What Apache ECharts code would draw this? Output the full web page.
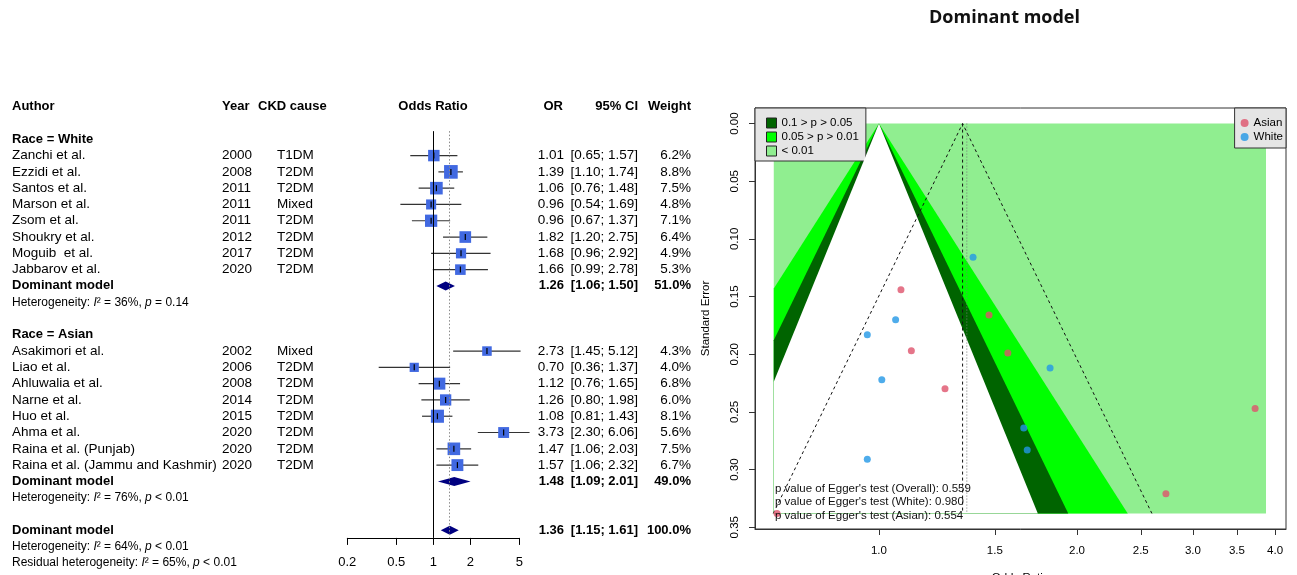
<!DOCTYPE html>
<html>
<head>
<meta charset="utf-8">
<title>Dominant model</title>
<script src="https://cdn.jsdelivr.net/npm/echarts@6.0.0/dist/echarts.min.js"></script>
<style>
  html, body { margin: 0; padding: 0; background: #fff; }
  #main { width: 1297px; height: 575px; }
</style>
</head>
<body>
<div id="main"></div>
<script>
// ---- values ----
// Race = White
const whiteAuthors = ['Zanchi et al.', 'Ezzidi et al.', 'Santos et al.', 'Marson et al.', 'Zsom et al.', 'Shoukry et al.', 'Moguib  et al.', 'Jabbarov et al.'];
const whiteYears = [2000, 2008, 2011, 2011, 2011, 2012, 2017, 2020];
const whiteCause = ['T1DM', 'T2DM', 'T2DM', 'Mixed', 'T2DM', 'T2DM', 'T2DM', 'T2DM'];
const whiteOR = [1.01, 1.39, 1.06, 0.96, 0.96, 1.82, 1.68, 1.66];
const whiteLo = [0.65, 1.10, 0.76, 0.54, 0.67, 1.20, 0.96, 0.99];
const whiteHi = [1.57, 1.74, 1.48, 1.69, 1.37, 2.75, 2.92, 2.78];
const whiteWeight = [6.2, 8.8, 7.5, 4.8, 7.1, 6.4, 4.9, 5.3];
const whiteSE = [0.222, 0.116, 0.170, 0.291, 0.183, 0.212, 0.283, 0.264];

// Race = Asian
const asianAuthors = ['Asakimori et al.', 'Liao et al.', 'Ahluwalia et al.', 'Narne et al.', 'Huo et al.', 'Ahma et al.', 'Raina et al. (Punjab)', 'Raina et al. (Jammu and Kashmir)'];
const asianYears = [2002, 2006, 2008, 2014, 2015, 2020, 2020, 2020];
const asianCause = ['Mixed', 'T2DM', 'T2DM', 'T2DM', 'T2DM', 'T2DM', 'T2DM', 'T2DM'];
const asianOR = [2.73, 0.70, 1.12, 1.26, 1.08, 3.73, 1.47, 1.57];
const asianLo = [1.45, 0.36, 0.76, 0.80, 0.81, 2.30, 1.06, 1.06];
const asianHi = [5.12, 1.37, 1.65, 1.98, 1.43, 6.06, 2.03, 2.32];
const asianWeight = [4.3, 4.0, 6.8, 6.0, 8.1, 5.6, 7.5, 6.7];
const asianSE = [0.321, 0.338, 0.197, 0.230, 0.144, 0.247, 0.166, 0.199];

// pooled: White, Asian, overall
const pooledOR = [1.26, 1.48, 1.36];
const pooledLo = [1.06, 1.09, 1.15];
const pooledHi = [1.50, 2.01, 1.61];
const pooledWeight = [51.0, 49.0, 100.0];
const hetI2 = [36, 76, 64];
const hetP = ['= 0.14', '< 0.01', '< 0.01'];
const residualI2 = 65;
const residualP = '< 0.01';
const forestTicks = [0.2, 0.5, 1, 2, 5];

// funnel plot
const fixedOR = 1.34;
const randomOR = 1.36;
const seMax = 0.338;
const contourNames = ['0.1 > p > 0.05', '0.05 > p > 0.01', '< 0.01'];
const contourZ = [1.645, 1.96, 2.576];
const funnelXTicks = [1.0, 1.5, 2.0, 2.5, 3.0, 3.5, 4.0];
const funnelYTicks = [0, 0.05, 0.10, 0.15, 0.20, 0.25, 0.30, 0.35];
const eggerGroups = ['Overall', 'White', 'Asian'];
const eggerP = ['0.559', '0.980', '0.554'];

// ---- layout ----
const FONT = '"Liberation Sans", Arial, Helvetica, sans-serif';
const ROW_H = 16.29;
const ROW0 = 139.3;        // pixel y of row 0
const AXIS_ROW = 24.47;    // forest axis sits between rows 24 and 25
const funnelXRange = [0.648, 4.156];
const funnelYRange = [-0.0135, 0.3515];
const shadeX = [0.692, 3.875];
const C = {
  dark: '#006400', green: '#00FF00', light: '#90EE90',
  asian: '#DF536B', white: '#2297E6', square: '#4169E1', diamond: '#000080'
};
const F = {
  b: 'bold 13px ' + FONT,
  n: '13.5px ' + FONT,
  h: '12px ' + FONT
};
const RICH = { i: { font: 'italic 12px ' + FONT } };

// ---- table text (left part) ----
const COL = { author: 12, year: 222, cause: 277, or: 564, ci: 638, weight: 691 };
const texts = [];
function addText(x, row, text, align, kind) { texts.push({ x, row, text, align, kind }); }
function ciText(lo, hi) { return '[' + lo.toFixed(2) + '; ' + hi.toFixed(2) + ']'; }
function hetText(i2, p) { return 'Heterogeneity: {i|I}\u00B2 = ' + i2 + '%, {i|p} ' + p; }

addText(12, -2, 'Author', 'left', 'b');
addText(222, -2, 'Year', 'left', 'b');
addText(258, -2, 'CKD cause', 'left', 'b');
addText(433, -2, 'Odds Ratio', 'center', 'b');
addText(563, -2, 'OR', 'right', 'b');
addText(COL.ci, -2, '95% CI', 'right', 'b');
addText(COL.weight, -2, 'Weight', 'right', 'b');

const groups = [
  { label: 'Race = White', start: 0, authors: whiteAuthors, years: whiteYears, cause: whiteCause, or: whiteOR, lo: whiteLo, hi: whiteHi, w: whiteWeight },
  { label: 'Race = Asian', start: 12, authors: asianAuthors, years: asianYears, cause: asianCause, or: asianOR, lo: asianLo, hi: asianHi, w: asianWeight }
];
const studyPts = [];
const pooledPts = [];

groups.forEach((g, gi) => {
  addText(COL.author, g.start, g.label, 'left', 'b');
  g.or.forEach((v, i) => {
    const r = g.start + 1 + i;
    addText(COL.author, r, g.authors[i], 'left', 'n');
    addText(COL.year, r, String(g.years[i]), 'left', 'n');
    addText(COL.cause, r, g.cause[i], 'left', 'n');
    addText(COL.or, r, v.toFixed(2), 'right', 'n');
    addText(COL.ci, r, ciText(g.lo[i], g.hi[i]), 'right', 'n');
    addText(COL.weight, r, g.w[i].toFixed(1) + '%', 'right', 'n');
    studyPts.push([g.lo[i], r, g.hi[i], v, g.w[i]]);
  });
  const pr = g.start + 9;
  addText(COL.author, pr, 'Dominant model', 'left', 'b');
  addText(COL.or, pr, pooledOR[gi].toFixed(2), 'right', 'b');
  addText(COL.ci, pr, ciText(pooledLo[gi], pooledHi[gi]), 'right', 'b');
  addText(COL.weight, pr, pooledWeight[gi].toFixed(1) + '%', 'right', 'b');
  addText(COL.author, pr + 1, hetText(hetI2[gi], hetP[gi]), 'left', 'h');
  pooledPts.push([pooledLo[gi], pr, pooledHi[gi], pooledOR[gi]]);
});
addText(COL.author, 24, 'Dominant model', 'left', 'b');
addText(COL.or, 24, pooledOR[2].toFixed(2), 'right', 'b');
addText(COL.ci, 24, ciText(pooledLo[2], pooledHi[2]), 'right', 'b');
addText(COL.weight, 24, pooledWeight[2].toFixed(1) + '%', 'right', 'b');
addText(COL.author, 25, hetText(hetI2[2], hetP[2]), 'left', 'h');
addText(COL.author, 26, 'Residual heterogeneity: {i|I}\u00B2 = ' + residualI2 + '%, {i|p} ' + residualP, 'left', 'h');
pooledPts.push([pooledLo[2], 24, pooledHi[2], pooledOR[2]]);

// ---- funnel contour polygons ----
function bandPoints(z) {
  const lnL = Math.log(shadeX[0]), lnR = Math.log(shadeX[1]);
  const pts = [[1, 0]];
  if (z * seMax > lnR) pts.push([shadeX[1], lnR / z], [shadeX[1], seMax]);
  else pts.push([Math.exp(z * seMax), seMax]);
  if (-z * seMax < lnL) pts.push([shadeX[0], seMax], [shadeX[0], -lnL / z]);
  else pts.push([Math.exp(-z * seMax), seMax]);
  return pts;
}
function polySeries(name, pts, color, z) {
  return {
    type: 'custom', name: name, xAxisIndex: 2, yAxisIndex: 2, z: z, silent: true,
    itemStyle: { color: color },
    data: [[1, 0]],
    renderItem: (params, api) => ({
      type: 'polygon',
      shape: { points: pts.map(p => api.coord(p)) },
      style: { fill: color }
    })
  };
}

const chart = echarts.init(document.getElementById('main'));

const axisText = { color: '#000', fontFamily: FONT };

const option = {
  animation: false,
  backgroundColor: '#fff',
  title: {
    text: 'Dominant model', left: 929, top: 9, padding: 0,
    textStyle: { fontFamily: '"Open Sans", sans-serif', fontWeight: 'bold', fontSize: 18, color: '#111' }
  },
  legend: [
    {
      orient: 'vertical', left: 755, top: 108, selectedMode: false,
      itemWidth: 10, itemHeight: 10, itemGap: 2,
      padding: [9, 7, 4, 11],
      backgroundColor: '#e5e5e5', borderColor: '#333', borderWidth: 1, borderRadius: 0,
      textStyle: { fontSize: 11.5, fontFamily: FONT, color: '#000' },
      data: [
        { name: contourNames[0], icon: 'rect', itemStyle: { color: C.dark, borderColor: '#222', borderWidth: 1 } },
        { name: contourNames[1], icon: 'rect', itemStyle: { color: C.green, borderColor: '#222', borderWidth: 1 } },
        { name: contourNames[2], icon: 'rect', itemStyle: { color: C.light, borderColor: '#222', borderWidth: 1 } }
      ]
    },
    {
      orient: 'vertical', right: 11, top: 108, selectedMode: false,
      itemWidth: 8, itemHeight: 8, itemGap: 2,
      padding: [9, 3, 5, 6],
      backgroundColor: '#e5e5e5', borderColor: '#333', borderWidth: 1, borderRadius: 0,
      textStyle: { fontSize: 11.5, fontFamily: FONT, color: '#000' },
      data: [{ name: 'Asian', icon: 'circle' }, { name: 'White', icon: 'circle' }]
    }
  ],
  graphic: [{
    type: 'text', left: 775, top: 482, z: 20,
    style: {
      text: eggerGroups.map((g, i) => "p value of Egger's test (" + g + '): ' + eggerP[i]).join('\n'),
      font: '11.5px ' + FONT, lineHeight: 13.5, fill: '#111'
    }
  }],
  grid: [
    { left: 0, width: 700, top: ROW0 - 2.5 * ROW_H, height: 29 * ROW_H, show: false, outerBoundsMode: 'none' },
    { left: 347.3, width: 172, top: ROW0 - 0.5 * ROW_H, height: (AXIS_ROW + 0.5) * ROW_H, show: false, outerBoundsMode: 'none' },
    { left: 755, width: 531, top: 108, height: 421, show: true, borderColor: '#333', borderWidth: 1, outerBoundsMode: 'none' }
  ],
  xAxis: [
    { gridIndex: 0, type: 'value', min: 0, max: 700, show: false },
    {
      gridIndex: 1, type: 'log', logBase: 10, min: forestTicks[0], max: forestTicks[forestTicks.length - 1],
      position: 'bottom',
      axisLine: { show: true, onZero: false, lineStyle: { color: '#000', width: 1 } },
      axisTick: { show: true, inside: false, length: 7, customValues: forestTicks, lineStyle: { color: '#000' } },
      axisLabel: { customValues: forestTicks, margin: 18, fontSize: 13, ...axisText, formatter: v => String(v) },
      splitLine: { show: false }, minorTick: { show: false }
    },
    {
      gridIndex: 2, type: 'log', logBase: Math.E, min: funnelXRange[0], max: funnelXRange[1],
      position: 'bottom',
      name: 'Odds Ratio', nameLocation: 'middle', nameGap: 43,
      nameTextStyle: { fontSize: 11.5, fontFamily: FONT, color: '#000' },
      axisLine: { show: true, onZero: false, lineStyle: { color: '#333', width: 1 } },
      axisTick: { show: true, inside: false, length: 6, customValues: funnelXTicks, lineStyle: { color: '#333' } },
      axisLabel: { customValues: funnelXTicks, margin: 16, fontSize: 11.5, ...axisText, formatter: v => v.toFixed(1) },
      splitLine: { show: false }
    }
  ],
  yAxis: [
    { gridIndex: 0, type: 'value', inverse: true, min: -2.5, max: 26.5, show: false },
    { gridIndex: 1, type: 'value', inverse: true, min: -0.5, max: AXIS_ROW, show: false },
    {
      gridIndex: 2, type: 'value', inverse: true, min: funnelYRange[0], max: funnelYRange[1],
      name: 'Standard Error', nameLocation: 'middle', nameGap: 43,
      nameTextStyle: { fontSize: 11.5, fontFamily: FONT, color: '#000' },
      axisLine: { show: true, onZero: false, lineStyle: { color: '#333', width: 1 } },
      axisTick: { show: true, inside: false, length: 6, customValues: funnelYTicks, lineStyle: { color: '#333' } },
      axisLabel: { customValues: funnelYTicks, rotate: 90, margin: 14, fontSize: 11.5, ...axisText, formatter: v => v.toFixed(2) },
      splitLine: { show: false }
    }
  ],
  series: [
    // table text
    {
      type: 'custom', xAxisIndex: 0, yAxisIndex: 0, silent: true, z: 10,
      data: texts.map((t, i) => [t.x, t.row, i]),
      renderItem: (params, api) => {
        const t = texts[params.dataIndex];
        const p = api.coord([api.value(0), api.value(1)]);
        return {
          type: 'text', x: p[0], y: p[1],
          style: { text: t.text, fill: '#000', font: F[t.kind], align: t.align, verticalAlign: 'middle', rich: RICH }
        };
      }
    },
    // study confidence intervals, squares (area ~ weight) and estimate ticks
    {
      type: 'custom', xAxisIndex: 1, yAxisIndex: 1, silent: true, z: 3,
      data: studyPts,
      encode: { x: [0, 2, 3], y: 1 },
      renderItem: (params, api) => {
        const a = api.coord([api.value(0), api.value(1)]);
        const b = api.coord([api.value(2), api.value(1)]);
        const m = api.coord([api.value(3), api.value(1)]);
        const side = 4.6 * Math.sqrt(api.value(4));
        return {
          type: 'group',
          children: [
            { type: 'line', shape: { x1: a[0], y1: a[1], x2: b[0], y2: b[1] }, style: { stroke: '#333', lineWidth: 1.2 }, z2: 1 },
            { type: 'rect', shape: { x: m[0] - side / 2, y: m[1] - side / 2, width: side, height: side }, style: { fill: C.square }, z2: 2 },
            { type: 'line', shape: { x1: m[0], y1: m[1] - 3, x2: m[0], y2: m[1] + 3 }, style: { stroke: '#000', lineWidth: 1.2 }, z2: 3 }
          ]
        };
      }
    },
    // pooled diamonds + reference lines
    {
      type: 'custom', xAxisIndex: 1, yAxisIndex: 1, silent: true, z: 2,
      data: pooledPts,
      encode: { x: [0, 2, 3], y: 1 },
      renderItem: (params, api) => {
        const a = api.coord([api.value(0), api.value(1)]);
        const b = api.coord([api.value(2), api.value(1)]);
        const m = api.coord([api.value(3), api.value(1)]);
        return {
          type: 'polygon',
          shape: { points: [a, [m[0], m[1] - 4.5], b, [m[0], m[1] + 4.5]] },
          style: { fill: C.diamond }
        };
      },
      markLine: {
        silent: true, symbol: 'none', label: { show: false },
        data: [
          { xAxis: 1, lineStyle: { color: '#000', type: 'solid', width: 1 } },
          { xAxis: randomOR, lineStyle: { color: '#8a8a8a', type: [1.5, 2], width: 1 } }
        ]
      }
    },
    // funnel contours
    polySeries(contourNames[2], [[shadeX[0], 0], [shadeX[1], 0], [shadeX[1], seMax], [shadeX[0], seMax]], C.light, 1),
    polySeries(contourNames[1], bandPoints(contourZ[2]), C.green, 2),
    polySeries(contourNames[0], bandPoints(contourZ[1]), C.dark, 3),
    polySeries('', bandPoints(contourZ[0]), '#ffffff', 4),
    // pseudo confidence funnel and pooled estimates
    {
      type: 'custom', xAxisIndex: 2, yAxisIndex: 2, silent: true, z: 5,
      data: [[fixedOR, seMax]],
      renderItem: (params, api) => {
        const f = api.value(0), s = api.value(1);
        const top = api.coord([f, 0]);
        const l = api.coord([Math.exp(Math.log(f) - 1.96 * s), s]);
        const r = api.coord([Math.exp(Math.log(f) + 1.96 * s), s]);
        const fb = api.coord([f, s]);
        const rt = api.coord([randomOR, 0]);
        const rb = api.coord([randomOR, s]);
        return {
          type: 'group',
          children: [
            { type: 'polyline', shape: { points: [l, top, r] }, style: { stroke: '#111', lineWidth: 1, lineDash: [3, 3], fill: null } },
            { type: 'line', shape: { x1: top[0], y1: top[1], x2: fb[0], y2: fb[1] }, style: { stroke: '#111', lineWidth: 1, lineDash: [3, 3] } },
            { type: 'line', shape: { x1: rt[0], y1: rt[1], x2: rb[0], y2: rb[1] }, style: { stroke: '#777', lineWidth: 1, lineDash: [1, 2] } }
          ]
        };
      }
    },
    {
      name: 'Asian', type: 'scatter', xAxisIndex: 2, yAxisIndex: 2, z: 6, silent: true,
      symbol: 'circle', symbolSize: 7, itemStyle: { color: C.asian },
      data: asianOR.map((v, i) => [v, asianSE[i]])
    },
    {
      name: 'White', type: 'scatter', xAxisIndex: 2, yAxisIndex: 2, z: 6, silent: true,
      symbol: 'circle', symbolSize: 7, itemStyle: { color: C.white },
      data: whiteOR.map((v, i) => [v, whiteSE[i]])
    }
  ]
};

chart.setOption(option);
</script>
</body>
</html>
